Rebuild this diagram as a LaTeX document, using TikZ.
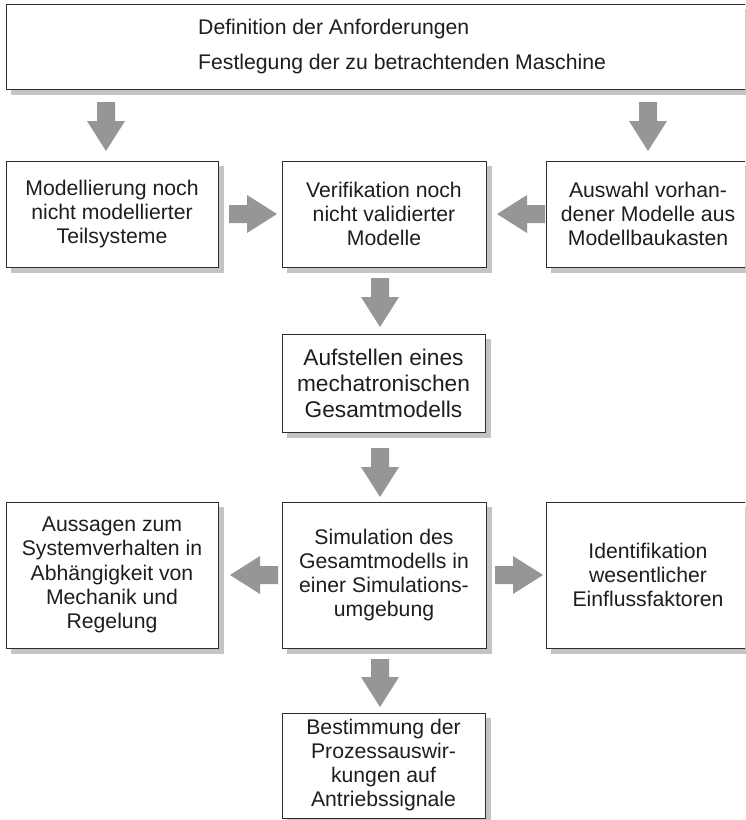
\documentclass[tikz,border=0pt]{standalone}
\usepackage{fontspec}
\setmainfont{Liberation Sans}
\usetikzlibrary{calc,backgrounds}

\definecolor{framegray}{RGB}{45,45,45}
\definecolor{shadowgray}{RGB}{196,196,198}
\definecolor{arrowgray}{RGB}{150,150,153}
\definecolor{textgray}{RGB}{30,30,30}

\tikzset{
  stepbox/.style={draw=framegray, line width=1pt, fill=white, align=center,
    inner sep=0pt, text=textgray,
    font=\fontsize{21.2}{24.3}\selectfont},
  boxshadow/.style={fill=shadowgray, draw=none},
  arrowfill/.style={fill=arrowgray, draw=none}
}

% broad block arrow from tail #1 to tip #2 (shaft 18pt, head 38pt wide, 30pt long)
\newcommand{\blockarrow}[2]{%
  \coordinate (#1-h) at ($(#2)!30pt!(#1)$);
  \fill[arrowfill]
    ($(#1)!9pt!90:(#2)$) -- ($(#1-h)!9pt!90:(#2)$) -- ($(#1-h)!19pt!90:(#2)$) --
    (#2) --
    ($(#1-h)!19pt!-90:(#2)$) -- ($(#1-h)!9pt!-90:(#2)$) -- ($(#1)!9pt!-90:(#2)$) -- cycle;
}

\begin{document}
\begin{tikzpicture}[x=1pt,y=-1pt]
\useasboundingbox (0,0) rectangle (745,820);
\clip (0,0) rectangle (745,820);

% boxes
\node[stepbox, minimum width=746pt, minimum height=85pt] (top) at (379,46.5) {};
\node[anchor=west, align=left, inner sep=0pt, text=textgray,
      font=\fontsize{21.2}{35}\selectfont] (toptext) at (198,47)
  {Definition der Anforderungen\\Festlegung der zu betrachtenden Maschine};

\node[stepbox, minimum width=212pt, minimum height=106pt] (mod) at (112,214)
  {Modellierung noch\\nicht modellierter\\Teilsysteme};
\node[stepbox, minimum width=204pt, minimum height=106pt] (verif) at (384,214)
  {Verifikation noch\\nicht validierter\\Modelle};
\node[stepbox, minimum width=204pt, minimum height=106pt] (ausw) at (648,214)
  {Auswahl vorhan-\\dener Modelle aus\\Modellbaukasten};

\node[stepbox, minimum width=203pt, minimum height=98pt,
      font=\fontsize{22.7}{26}\selectfont] (aufst) at (383.5,383)
  {Aufstellen eines\\mechatronischen\\Gesamtmodells};

\node[stepbox, minimum width=212pt, minimum height=146pt] (aussagen) at (112,575)
  {Aussagen zum\\Systemverhalten in\\Abhängigkeit von\\Mechanik und\\Regelung};
\node[stepbox, minimum width=204pt, minimum height=146pt] (sim) at (384,575)
  {Simulation des\\Gesamtmodells in\\einer Simulations-\\umgebung};
\node[stepbox, minimum width=204pt, minimum height=146pt] (ident) at (648,575)
  {Identifikation\\wesentlicher\\Einflussfaktoren};

\node[stepbox, minimum width=203pt, minimum height=105pt,
      font=\fontsize{21.2}{24}\selectfont] (best) at (383.5,765.5)
  {Bestimmung der\\Prozessauswir-\\kungen auf\\Antriebssignale};

% white page and the offset shadows behind every box
\begin{pgfonlayer}{background}
  \fill[white] (0,0) rectangle (745,820);
  \foreach \b in {top,mod,verif,ausw,aufst,aussagen,sim,ident,best}
    \fill[boxshadow] ($(\b.north west)+(5,5)$) rectangle ($(\b.south east)+(5,5)$);
\end{pgfonlayer}

% arrow ends
\coordinate (a1) at (106,102);  \coordinate (a1t) at (106,151);
\coordinate (a2) at (648,102);  \coordinate (a2t) at (648,151);
\coordinate (a3) at (229,214);  \coordinate (a3t) at (277,214);
\coordinate (a4) at (545,214);  \coordinate (a4t) at (497,214);
\coordinate (a5) at (380,278);  \coordinate (a5t) at (380,327);
\coordinate (a6) at (380,448);  \coordinate (a6t) at (380,497);
\coordinate (a7) at (278,575);  \coordinate (a7t) at (230,575);
\coordinate (a8) at (495,575);  \coordinate (a8t) at (543,575);
\coordinate (a9) at (380,659);  \coordinate (a9t) at (380,707);

\blockarrow{a1}{a1t}
\blockarrow{a2}{a2t}
\blockarrow{a3}{a3t}
\blockarrow{a4}{a4t}
\blockarrow{a5}{a5t}
\blockarrow{a6}{a6t}
\blockarrow{a7}{a7t}
\blockarrow{a8}{a8t}
\blockarrow{a9}{a9t}
\end{tikzpicture}
\end{document}
